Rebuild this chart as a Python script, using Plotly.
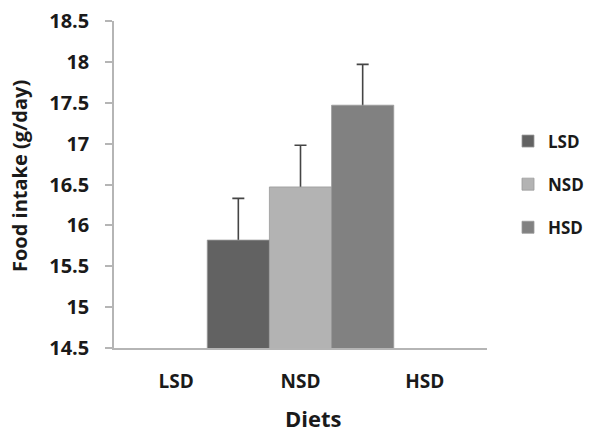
import plotly.graph_objects as go

# Diet groups shown on the category axis
diets = ["LSD", "NSD", "HSD"]

# Mean food intake (g/day) per diet series, all plotted in the NSD slot
series_names = ["LSD", "NSD", "HSD"]
intake = [15.82, 16.47, 17.47]
intake_err = [0.51, 0.51, 0.50]

colors = ["#626262", "#b3b3b3", "#818181"]
offsets = [-0.75, -0.25, 0.25]
bar_width = 0.5

fig = go.Figure()

# Error whiskers first (transparent bars); the opaque bars drawn afterwards
# hide the lower half so only the upward whisker shows.
for i, name in enumerate(series_names):
    fig.add_trace(go.Bar(
        x=[diets[1]],
        y=[intake[i]],
        offset=offsets[i],
        width=bar_width,
        showlegend=False,
        hoverinfo="skip",
        marker=dict(color="rgba(0,0,0,0)", line=dict(width=0)),
        error_y=dict(type="data", array=[intake_err[i]], symmetric=True,
                     color="#454545", thickness=1.6, width=6),
    ))

for i, name in enumerate(series_names):
    fig.add_trace(go.Bar(
        x=[diets[1]],
        y=[intake[i]],
        name=name,
        legendgroup=name,
        offset=offsets[i],
        width=bar_width,
        marker=dict(color=colors[i], line=dict(color="#9a9a9a", width=0.8)),
    ))

font_family = "Open Sans"
fig.update_layout(
    width=591, height=433,
    margin=dict(l=114, r=104, t=21, b=85),
    paper_bgcolor="white", plot_bgcolor="white",
    barmode="overlay",
    showlegend=True,
    font=dict(family=font_family, size=17, color="#1a1a1a", weight="bold"),
    legend=dict(
        x=508 / 591, xref="container", xanchor="left",
        y=0.5, yanchor="middle",
        tracegroupgap=18,
        itemwidth=30,
        font=dict(size=17, weight="bold"),
        bgcolor="rgba(0,0,0,0)",
    ),
    xaxis=dict(
        type="category",
        categoryorder="array", categoryarray=diets,
        range=[-0.5, 2.5],
        automargin=False,
        showline=True, linecolor="#b5b5b5", linewidth=1.5,
        ticks="", showgrid=False, zeroline=False,
        ticklabelstandoff=15,
        tickfont=dict(size=19, weight="bold"),
    ),
    yaxis=dict(
        range=[14.5, 18.5],
        automargin=False,
        tickvals=[14.5, 15, 15.5, 16, 16.5, 17, 17.5, 18, 18.5],
        ticktext=["14.5", "15", "15.5", "16", "16.5", "17", "17.5", "18", "18.5"],
        showline=True, linecolor="#b5b5b5", linewidth=1.5,
        ticks="outside", ticklen=7, tickcolor="#b5b5b5", tickwidth=1.5,
        showgrid=False, zeroline=False,
        ticklabelstandoff=12,
        tickfont=dict(size=20, weight="bold"),
    ),
    annotations=[
        # axis titles
        dict(text="Food intake (g/day)", textangle=-90,
             xref="paper", yref="paper", x=-0.252, y=0.526,
             xanchor="center", yanchor="middle", showarrow=False,
             font=dict(size=20, weight="bold")),
        dict(text="Diets",
             xref="paper", yref="paper", x=0.534, y=-0.214,
             xanchor="center", yanchor="middle", showarrow=False,
             font=dict(size=22, weight="bold")),
    ],
)

fig.write_html("out.html")
